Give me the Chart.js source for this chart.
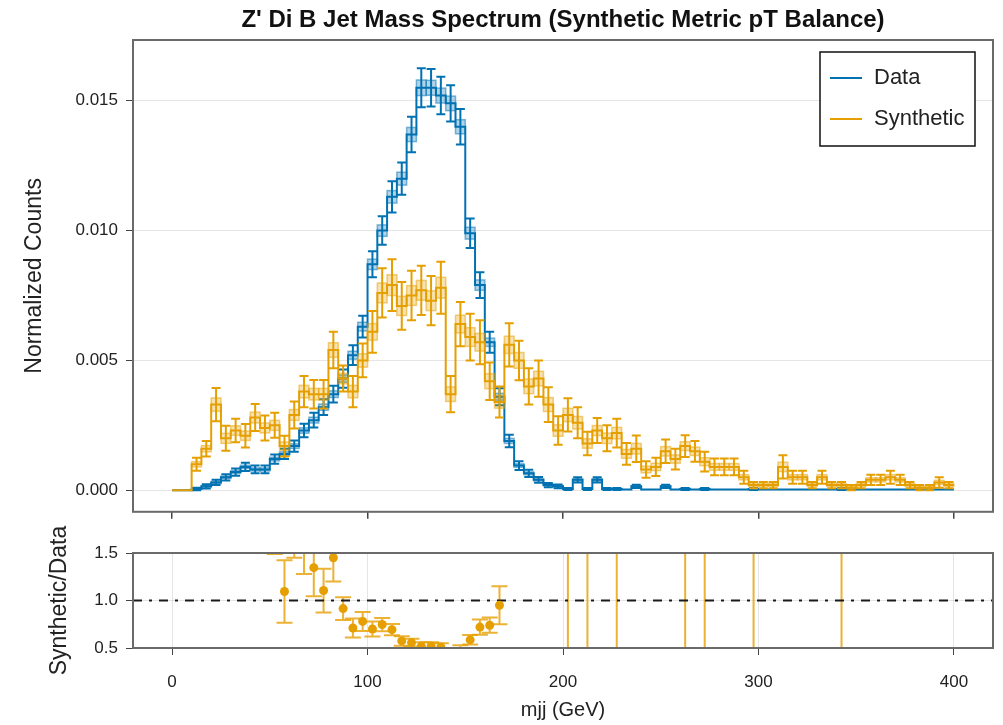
<!DOCTYPE html>
<html>
<head>
<meta charset="utf-8">
<script src="https://cdn.jsdelivr.net/npm/chart.js@4.4.1/dist/chart.umd.min.js"></script>
<style>
  body { margin: 0; background: #fff; }
  #wrap { position: relative; width: 1003px; height: 725px; }
  #top { position: absolute; left: 0; top: 0; }
  #bottom { position: absolute; left: 0; top: 455px; }
</style>
</head>
<body>
<div id="wrap">
  <canvas id="top" width="1003" height="530"></canvas>
  <canvas id="bottom" width="1003" height="270"></canvas>
</div>
<script>
// Bin edges (GeV)
const binEdges = [0,5,10,15,20,25,30,35,40,45,50,55,60,65,70,75,80,85,90,95,
  100,105,110,115,120,125,130,135,140,145,150,155,160,165,170,175,180,185,190,195,
  200,205,210,215,220,225,230,235,240,245,250,255,260,265,270,275,280,285,290,295,
  300,305,310,315,320,325,330,335,340,345,350,355,360,365,370,375,380,385,390,395,400];

// Data histogram (normalized counts) and errors
const dataVals = [0,0,0.00005,0.00015,0.0003,0.0005,0.0007,0.0009,0.0008,0.0008,
  0.0012,0.0014,0.0017,0.0023,0.0027,0.0032,0.0037,0.0043,0.0052,0.0063,
  0.0087,0.0100,0.0113,0.0120,0.0137,0.0155,0.0155,0.0152,0.0149,0.0140,
  0.0099,0.0079,0.0057,0.0036,0.0019,0.00095,0.00065,0.0004,0.0002,0.00015,
  0.00005,0.0004,0.00005,0.0004,0.00005,0.00005,0.00003,0.00015,0.00003,0.00003,
  0.00015,0.00003,0.00005,0.00003,0.00005,0.00003,0.00003,0.00003,0.00003,0.00005,
  0.00003,0.00003,0.00003,0.00003,0.00003,0.00003,0.00003,0.00003,0.00005,0.00003,
  0.00003,0.00003,0.00003,0.00003,0.00003,0.00003,0.00003,0.00003,0.00003,0.00003];
const dataErr = [0,0,0.00005,0.00008,0.0001,0.00012,0.00014,0.00016,0.00015,0.00015,
  0.00018,0.0002,0.00022,0.00026,0.00028,0.0003,0.00032,0.00035,0.00038,0.00042,
  0.0005,0.00055,0.0006,0.00062,0.00068,0.00075,0.00072,0.00072,0.0007,0.00068,
  0.00057,0.0005,0.0004,0.00033,0.00024,0.00017,0.00014,0.00011,0.00008,0.00007,
  0.00004,0.0001,0.00004,0.0001,0.00004,0.00004,0,0.00006,0,0,
  0.00006,0,0.00004,0,0.00004,0,0,0,0,0.00004,
  0,0,0,0,0,0,0,0,0.00004,0,
  0,0,0,0,0,0,0,0,0,0];

// Synthetic histogram and errors
const synthVals = [0,0,0.0010,0.0016,0.0033,0.0020,0.0023,0.0021,0.0028,0.0024,
  0.0025,0.0017,0.0029,0.0038,0.0037,0.0037,0.0054,0.0043,0.0038,0.0050,
  0.0061,0.0076,0.0079,0.0071,0.0075,0.0077,0.0073,0.0078,0.0037,0.0064,
  0.0059,0.0057,0.0042,0.0034,0.0056,0.0050,0.0040,0.0043,0.0033,0.0023,
  0.0029,0.0026,0.0018,0.0023,0.0020,0.0022,0.0014,0.0016,0.0008,0.0009,
  0.0015,0.0012,0.0017,0.0015,0.0011,0.0009,0.0009,0.0009,0.0005,0.0002,
  0.0002,0.0002,0.0009,0.0005,0.0005,0.0002,0.0005,0.0002,0.0002,0.0001,
  0.0002,0.0004,0.0004,0.0005,0.0004,0.0002,0.0001,0.0001,0.0003,0.0002];
const synthErr = [0,0,0.00025,0.0003,0.00064,0.00048,0.00045,0.00045,0.00052,0.00048,
  0.00048,0.0004,0.00052,0.0006,0.00055,0.00055,0.0007,0.0005,0.0006,0.00065,
  0.0008,0.00095,0.001,0.00092,0.00095,0.00095,0.00095,0.001,0.0007,0.00085,
  0.0009,0.00085,0.00072,0.0006,0.00083,0.00076,0.0007,0.0007,0.00067,0.00055,
  0.00064,0.0006,0.00045,0.00048,0.0005,0.00055,0.00042,0.00051,0.00032,0.00035,
  0.00045,0.0004,0.00042,0.0004,0.00038,0.00032,0.00032,0.00032,0.00025,0.00012,
  0.00012,0.00012,0.00045,0.00025,0.00025,0.00012,0.00025,0.00012,0.00012,0.0001,
  0.00012,0.0002,0.0002,0.00025,0.0002,0.00012,0.0001,0.0001,0.0002,0.00012];

// Ratio panel (Synthetic/Data) at bin centres
const ratioBins = [52.5,57.5,62.5,67.5,72.5,77.5,82.5,87.5,92.5,97.5,102.5,107.5,112.5,117.5,
  122.5,127.5,132.5,137.5,147.5,152.5,157.5,162.5,167.5,
  202.5,212.5,227.5,262.5,272.5,297.5,342.5];
const ratioVals = [1.95,1.095,1.75,1.6,1.346,1.105,1.45,0.915,0.71,0.78,0.70,0.747,0.693,0.575,
  0.557,0.52,0.52,0.51,0.46,0.586,0.72,0.74,0.95,
  20,20,20,20,20,20,20];
const ratioErr = [0.46,0.33,0.3,0.32,0.3,0.23,0.25,0.12,0.1,0.1,0.08,0.07,0.06,0.05,
  0.04,0.04,0.04,0.04,0.07,0.05,0.08,0.08,0.2,
  20,20,20,20,20,20,20];

const xTicks = [0, 100, 200, 300, 400];
const yTicksTop = [0, 0.005, 0.010, 0.015];
const yTicksRatio = [0.5, 1.0, 1.5];

const BLUE = 'rgb(0,114,178)';
const ORANGE = 'rgb(230,159,0)';
const FONT = '"Liberation Sans", Arial, sans-serif';

Chart.defaults.font.family = FONT;
Chart.defaults.color = '#222';

function stepPoints(vals) {
  return binEdges.map((e, i) => ({ x: e, y: vals[Math.min(i, vals.length - 1)] }));
}

// Boxes + error bars drawn after each histogram dataset
const errorBoxes = {
  id: 'errorBoxes',
  afterDatasetDraw(chart, args) {
    const ds = chart.data.datasets[args.index];
    if (!ds.vals) return;
    const { ctx, chartArea } = chart;
    const xs = chart.scales.x, ys = chart.scales.y;
    ctx.save();
    ctx.beginPath();
    ctx.rect(chartArea.left, chartArea.top, chartArea.width, chartArea.height);
    ctx.clip();
    ds.vals.forEach((v, i) => {
      const e = ds.errs[i];
      if (!e) return;
      const x0 = xs.getPixelForValue(binEdges[i]);
      const x1 = xs.getPixelForValue(binEdges[i + 1]);
      const xc = (x0 + x1) / 2;
      const bTop = ys.getPixelForValue(v + 0.4 * e);
      const bBot = ys.getPixelForValue(v - 0.4 * e);
      ctx.fillStyle = ds.boxFill;
      ctx.fillRect(x0, bTop, x1 - x0, bBot - bTop);
      ctx.strokeStyle = ds.boxLine;
      ctx.lineWidth = 1.5;
      ctx.strokeRect(x0, bTop, x1 - x0, bBot - bTop);
      const yT = ys.getPixelForValue(v + e);
      const yB = ys.getPixelForValue(v - e);
      ctx.strokeStyle = ds.borderColor;
      ctx.lineWidth = 2;
      ctx.beginPath();
      ctx.moveTo(xc, yT); ctx.lineTo(xc, yB);
      ctx.moveTo(xc - 4.5, yT); ctx.lineTo(xc + 4.5, yT);
      ctx.moveTo(xc - 4.5, yB); ctx.lineTo(xc + 4.5, yB);
      ctx.stroke();
    });
    ctx.restore();
  }
};

const frame = {
  id: 'frame',
  afterDraw(chart) {
    const { ctx, chartArea: a } = chart;
    ctx.save();
    ctx.strokeStyle = '#6a6a6a';
    ctx.lineWidth = 2;
    ctx.strokeRect(a.left, a.top, a.width, a.height);
    ctx.restore();
  }
};

const titleAndLegend = {
  id: 'titleAndLegend',
  afterDraw(chart) {
    const { ctx, chartArea: a } = chart;
    ctx.save();
    ctx.fillStyle = '#111';
    ctx.font = 'bold 24px ' + FONT;
    ctx.textAlign = 'center';
    ctx.textBaseline = 'middle';
    ctx.fillText("Z' Di B Jet Mass Spectrum (Synthetic Metric pT Balance)", (a.left + a.right) / 2, 20);

    const lx = a.right - 173, ly = a.top + 12, lw = 155, lh = 94;
    ctx.fillStyle = '#fff';
    ctx.fillRect(lx, ly, lw, lh);
    ctx.strokeStyle = '#111';
    ctx.lineWidth = 1.5;
    ctx.strokeRect(lx, ly, lw, lh);
    const items = [['Data', BLUE], ['Synthetic', ORANGE]];
    ctx.font = '22px ' + FONT;
    ctx.textAlign = 'left';
    items.forEach(([label, col], k) => {
      const yy = ly + 26 + k * 41;
      ctx.strokeStyle = col;
      ctx.lineWidth = 2;
      ctx.beginPath();
      ctx.moveTo(lx + 10, yy); ctx.lineTo(lx + 42, yy);
      ctx.stroke();
      ctx.fillStyle = '#222';
      ctx.fillText(label, lx + 54, yy);
    });
    ctx.restore();
  }
};

const ratioBars = {
  id: 'ratioBars',
  beforeDatasetsDraw(chart) {
    const { ctx, chartArea } = chart;
    const xs = chart.scales.x, ys = chart.scales.y;
    ctx.save();
    ctx.beginPath();
    ctx.rect(chartArea.left, chartArea.top, chartArea.width, chartArea.height);
    ctx.clip();
    ctx.strokeStyle = 'rgba(230,159,0,0.8)';
    ctx.lineWidth = 2;
    ratioBins.forEach((b, i) => {
      const xc = xs.getPixelForValue(b);
      const yT = ys.getPixelForValue(ratioVals[i] + ratioErr[i]);
      const yB = ys.getPixelForValue(ratioVals[i] - ratioErr[i]);
      ctx.beginPath();
      ctx.moveTo(xc, yT); ctx.lineTo(xc, yB);
      ctx.moveTo(xc - 8, yT); ctx.lineTo(xc + 8, yT);
      ctx.moveTo(xc - 8, yB); ctx.lineTo(xc + 8, yB);
      ctx.stroke();
    });
    ctx.restore();
  }
};

function fixedTicks(list) {
  return function (scale) { scale.ticks = list.map(v => ({ value: v })); };
}

// ---- top panel ----
new Chart(document.getElementById('top').getContext('2d'), {
  type: 'line',
  data: {
    datasets: [
      {
        label: 'Synthetic',
        data: stepPoints(synthVals),
        vals: synthVals, errs: synthErr,
        borderColor: ORANGE, boxFill: 'rgba(230,159,0,0.3)', boxLine: 'rgba(230,159,0,0.5)',
        borderWidth: 2, stepped: true, pointRadius: 0, fill: false
      },
      {
        label: 'Data',
        data: stepPoints(dataVals),
        vals: dataVals, errs: dataErr,
        borderColor: BLUE, boxFill: 'rgba(0,114,178,0.3)', boxLine: 'rgba(0,114,178,0.5)',
        borderWidth: 2, stepped: true, pointRadius: 0, fill: false
      }
    ]
  },
  options: {
    responsive: false,
    animation: false,
    layout: { padding: { left: 0, right: 10, top: 40, bottom: 0 } },
    plugins: { legend: { display: false }, tooltip: { enabled: false } },
    scales: {
      x: {
        type: 'linear', min: -20, max: 420,
        afterBuildTicks: fixedTicks(xTicks),
        afterFit(s) { s.height = 15; },
        ticks: { display: false },
        grid: { drawOnChartArea: false, drawTicks: true, tickLength: 7, tickColor: '#444', lineWidth: 1.5 },
        border: { display: false }
      },
      y: {
        min: -0.00083, max: 0.01734,
        afterBuildTicks: fixedTicks(yTicksTop),
        afterFit(s) { s.width = 133; },
        ticks: { callback: v => v.toFixed(3), font: { size: 17 }, padding: 8, color: '#222' },
        grid: { color: 'rgba(0,0,0,0.1)', tickColor: '#444', tickLength: 7, lineWidth: 1 },
        border: { display: false },
        title: { display: true, text: 'Normalized Counts', font: { size: 23 }, padding: { top: 21, bottom: 0 }, color: '#222' }
      }
    }
  },
  plugins: [errorBoxes, frame, titleAndLegend]
});

// ---- ratio panel ----
new Chart(document.getElementById('bottom').getContext('2d'), {
  type: 'scatter',
  data: {
    datasets: [
      {
        label: 'ratio',
        data: ratioBins.map((b, i) => ({ x: b, y: ratioVals[i] })),
        backgroundColor: ORANGE, borderColor: ORANGE,
        pointRadius: 4.5, borderWidth: 0
      },
      {
        type: 'line',
        label: 'unity',
        data: [{ x: -20, y: 1 }, { x: 420, y: 1 }],
        borderColor: '#1a1a1a', borderWidth: 2, borderDash: [9, 7, 3, 7],
        pointRadius: 0, fill: false
      }
    ]
  },
  options: {
    responsive: false,
    animation: false,
    layout: { padding: { left: 0, right: 10, top: 98, bottom: 0 } },
    plugins: { legend: { display: false }, tooltip: { enabled: false } },
    scales: {
      x: {
        type: 'linear', min: -20, max: 420,
        afterBuildTicks: fixedTicks(xTicks),
        afterFit(s) { s.height = 77; },
        ticks: { callback: v => String(v), font: { size: 17 }, padding: 17, color: '#222', maxRotation: 0 },
        grid: { color: 'rgba(0,0,0,0.1)', tickColor: '#444', tickLength: 7, lineWidth: 1 },
        border: { display: false },
        title: { display: true, text: 'mjj (GeV)', font: { size: 20 }, padding: { top: 0, bottom: 3 }, color: '#222' }
      },
      y: {
        min: 0.5, max: 1.5,
        afterBuildTicks: fixedTicks(yTicksRatio),
        afterFit(s) { s.width = 133; },
        ticks: { callback: v => v.toFixed(1), font: { size: 17 }, padding: 8, color: '#222' },
        grid: { color: 'rgba(0,0,0,0.1)', tickColor: '#444', tickLength: 7, lineWidth: 1 },
        border: { display: false },
        title: { display: true, text: 'Synthetic/Data', font: { size: 23 }, padding: { top: 46, bottom: 0 }, color: '#222' }
      }
    }
  },
  plugins: [ratioBars, frame]
});
</script>
</body>
</html>
